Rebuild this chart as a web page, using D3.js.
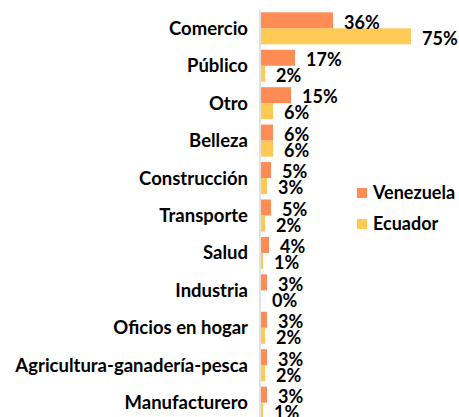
<!DOCTYPE html>
<html>
<head>
<meta charset="utf-8">
<script src="https://cdn.jsdelivr.net/npm/d3@7"></script>
<style>
  html, body { margin: 0; padding: 0; background: #fff; }
  svg { display: block; font-family: Lato, "Open Sans", sans-serif; font-weight: 700; }
</style>
</head>
<body>
<svg id="chart"></svg>
<script>
// categories, top to bottom
const categories = ['Comercio', 'Público', 'Otro', 'Belleza', 'Construcción', 'Transporte',
  'Salud', 'Industria', 'Oficios en hogar', 'Agricultura-ganadería-pesca', 'Manufacturero'];
const venezuela = [36, 17, 15, 6, 5, 5, 4, 3, 3, 3, 3];
const ecuador   = [75, 2, 6, 6, 3, 2, 1, 0, 2, 2, 1];
const seriesNames = ['Venezuela', 'Ecuador'];
const seriesColors = ['#FF8B55', '#FFC955'];

const width = 459, height = 417;
const svg = d3.select('#chart')
  .attr('width', width)
  .attr('height', height)
  .attr('viewBox', `0 0 ${width} ${height}`);

const x = d3.scaleLinear().domain([0, 80]).range([261, 421]);
const y = d3.scaleBand()
  .domain(categories)
  .range([9.6, 421.4])
  .paddingInner(0.145)
  .paddingOuter(0.0725);
const sub = d3.scaleBand().domain(seriesNames).range([0, y.bandwidth()]);

const rows = categories.map((c, i) => ({ cat: c, vals: [venezuela[i], ecuador[i]] }));

// vertical axis line
svg.append('line')
  .attr('x1', 260).attr('x2', 260)
  .attr('y1', 10).attr('y2', height)
  .attr('stroke', '#D9D9D9')
  .attr('stroke-width', 1.5);

const groups = svg.selectAll('g.row')
  .data(rows)
  .join('g')
    .attr('class', 'row')
    .attr('transform', d => `translate(0,${y(d.cat)})`);

groups.selectAll('rect')
  .data(d => d.vals.map((v, j) => ({ v, s: seriesNames[j], j })))
  .join('rect')
    .attr('x', x(0))
    .attr('y', d => sub(d.s))
    .attr('width', d => x(d.v) - x(0))
    .attr('height', sub.bandwidth())
    .attr('fill', d => seriesColors[d.j]);

groups.selectAll('text.val')
  .data(d => d.vals.map((v, j) => ({ v, s: seriesNames[j] })))
  .join('text')
    .attr('class', 'val')
    .attr('x', d => x(d.v) + 11)
    .attr('y', d => sub(d.s) + sub.bandwidth() / 2 + 2)
    .attr('dy', '0.35em')
    .style('font-size', '18px')
    .attr('fill', '#000')
    .text(d => `${d.v}%`);

// category labels
svg.selectAll('text.cat')
  .data(categories)
  .join('text')
    .attr('class', 'cat')
    .attr('x', 248)
    .attr('y', d => y(d) + y.bandwidth() / 2)
    .attr('dy', '0.35em')
    .attr('text-anchor', 'end')
    .style('font-size', '18.5px')
    .attr('fill', '#000')
    .text(d => d);

// legend
const legend = svg.selectAll('g.legend')
  .data(seriesNames)
  .join('g')
    .attr('class', 'legend')
    .attr('transform', (d, i) => `translate(357,${188 + i * 31})`);

legend.append('rect')
  .attr('width', 10).attr('height', 10)
  .attr('fill', (d, i) => seriesColors[i]);

legend.append('text')
  .attr('x', 16)
  .attr('y', 5)
  .attr('dy', '0.35em')
  .style('font-size', '18px')
  .attr('fill', '#000')
  .text(d => d);
</script>
</body>
</html>
